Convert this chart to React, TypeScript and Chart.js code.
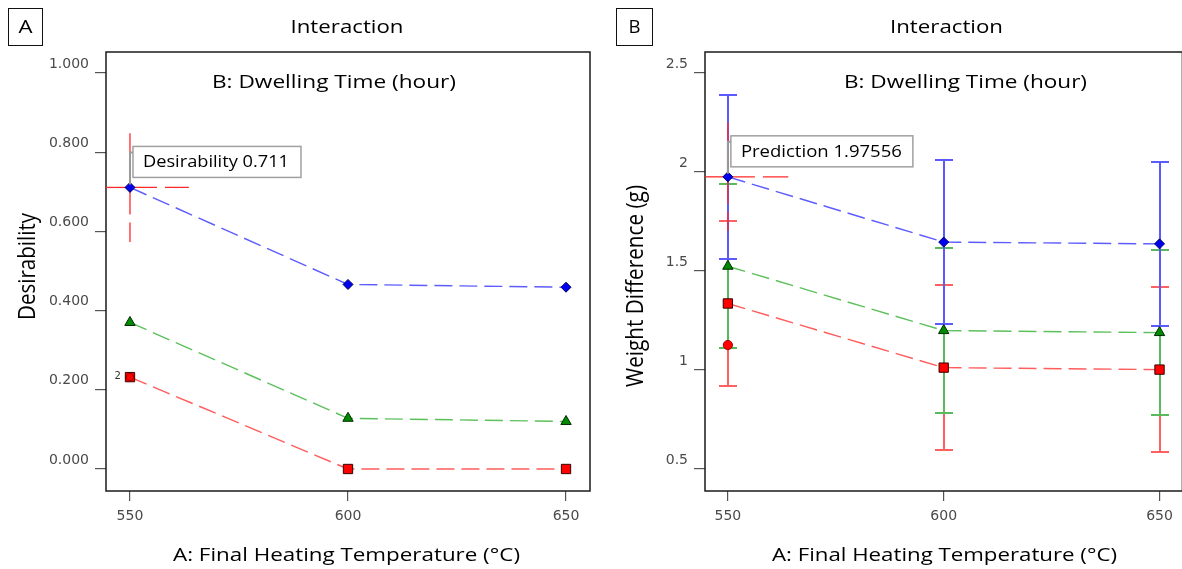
import React, { useEffect, useRef } from "react";
import { Chart, registerables } from "chart.js";

Chart.register(...registerables);

// ---------------- data ----------------
const temperatures = [550, 600, 650];
const temperatureTicks = [550, 600, 650];

// Panel A: Desirability
const desirabilityTicks = [0, 0.2, 0.4, 0.6, 0.8, 1.0];
const desirabilityLong = [0.711, 0.466, 0.459];
const desirabilityMid = [0.37, 0.128, 0.12];
const desirabilityShort = [0.232, 0.0, 0.0];
const desirabilityDesignTemps = [550];
const desirabilityDesignValues = [0.232];
const desirabilityDesignCounts = ["2"];

// Panel B: Weight Difference (g)
const weightTicks = [0.5, 1, 1.5, 2, 2.5];
const weightLong = [1.97556, 1.646, 1.637];
const weightLongLower = [1.559, 1.232, 1.222];
const weightLongUpper = [2.387, 2.06, 2.052];
const weightMid = [1.524, 1.199, 1.189];
const weightMidLower = [1.111, 0.783, 0.773];
const weightMidUpper = [1.938, 1.615, 1.605];
const weightShort = [1.336, 1.012, 1.002];
const weightShortLower = [0.921, 0.594, 0.584];
const weightShortUpper = [1.751, 1.429, 1.419];
const weightDesignTemps = [550];
const weightDesignValues = [1.126];
const weightDesignCounts = [""];

// ---------------- styles ----------------
const FONT = '"Open Sans", "Noto Sans", sans-serif';
const TICK_FONT = '"DejaVu Sans", sans-serif';

const blueStyle = { style: "rectRot", radius: 5, fill: "#0000f0", edge: "#000060", line: "#5c5cff", bar: "#5a5aff" };
const greenStyle = { style: "triangle", radius: 6, fill: "#008a00", edge: "#002a00", line: "#5cc05c", bar: "#5cb85c" };
const redStyle = { style: "rect", radius: 6.6, fill: "#ff0000", edge: "#3a0000", line: "#ff5c5c", bar: "#ff6060" };

type SeriesCfg = {
  name: string;
  values: number[];
  lower?: number[];
  upper?: number[];
  style: string;
  radius: number;
  fill: string;
  edge: string;
  line: string;
  bar: string;
};

type PanelCfg = {
  key: string;
  left: number;
  width: number;
  area: { left: number; right: number; top: number; bottom: number };
  xMin: number;
  xMax: number;
  yMin: number;
  yMax: number;
  yTicks: number[];
  yFormat: (v: number) => string;
  series: SeriesCfg[];
  design: { temps: number[]; values: number[]; counts: string[]; radius: number };
  bars: boolean;
  cross: { x: number; y: number; xEnd: number; yTop: number; yBottom: number };
  label: { text: string; boxW: number; textW: number };
  letterBox: { x: number; y: number; w: number; h: number };
  title: { cx: number; w: number };
  inner: { cx: number; w: number };
  xTitle: { text: string; cx: number; w: number };
  yTitle: { text: string; bx: number; cy: number; len: number };
};

const panelA: PanelCfg = {
  key: "A",
  left: 0,
  width: 600,
  area: { left: 106, right: 590, top: 52, bottom: 491 },
  xMin: 544.5,
  xMax: 655.5,
  yMin: -0.0556,
  yMax: 1.053,
  yTicks: desirabilityTicks,
  yFormat: (v) => v.toFixed(3),
  series: [
    { name: "B+", values: desirabilityLong, ...blueStyle },
    { name: "B0", values: desirabilityMid, ...greenStyle },
    { name: "B-", values: desirabilityShort, ...redStyle },
  ],
  design: { temps: desirabilityDesignTemps, values: desirabilityDesignValues, counts: desirabilityDesignCounts, radius: 3.6 },
  bars: false,
  cross: { x: temperatures[0], y: desirabilityLong[0], xEnd: 563.5, yTop: 0.848, yBottom: 0.573 },
  label: { text: "Desirability " + desirabilityLong[0].toFixed(3), boxW: 168, textW: 146 },
  letterBox: { x: 8, y: 8, w: 34, h: 37 },
  title: { cx: 347, w: 113 },
  inner: { cx: 334, w: 244 },
  xTitle: { text: "A: Final Heating Temperature (°C)", cx: 346.5, w: 347 },
  yTitle: { text: "Desirability", bx: 35, cy: 266.5, len: 107 },
};

const panelB: PanelCfg = {
  key: "B",
  left: 600,
  width: 590,
  area: { left: 105, right: 585, top: 52, bottom: 491 },
  xMin: 544.7,
  xMax: 655.3,
  yMin: 0.3889,
  yMax: 2.606,
  yTicks: weightTicks,
  yFormat: (v) => String(v),
  series: [
    { name: "B+", values: weightLong, lower: weightLongLower, upper: weightLongUpper, ...blueStyle },
    { name: "B0", values: weightMid, lower: weightMidLower, upper: weightMidUpper, ...greenStyle },
    { name: "B-", values: weightShort, lower: weightShortLower, upper: weightShortUpper, ...redStyle },
  ],
  design: { temps: weightDesignTemps, values: weightDesignValues, counts: weightDesignCounts, radius: 4.6 },
  bars: true,
  cross: { x: temperatures[0], y: weightLong[0], xEnd: 564, yTop: 2.249, yBottom: 1.703 },
  label: { text: "Prediction " + String(weightLong[0]), boxW: 182, textW: 161 },
  letterBox: { x: 16, y: 8, w: 36, h: 37 },
  title: { cx: 346.5, w: 113 },
  inner: { cx: 365.5, w: 243 },
  xTitle: { text: "A: Final Heating Temperature (°C)", cx: 344.5, w: 345 },
  yTitle: { text: "Weight Difference (g)", bx: 42.7, cy: 286, len: 202 },
};

// ---------------- text helpers ----------------
function drawStretched(ctx: CanvasRenderingContext2D, text: string, cx: number, baseline: number, size: number, width: number, color = "#000") {
  ctx.save();
  ctx.font = `${size}px ${FONT}`;
  const w = ctx.measureText(text).width || 1;
  ctx.translate(cx, baseline);
  ctx.scale(width / w, 1);
  ctx.textAlign = "center";
  ctx.textBaseline = "alphabetic";
  ctx.fillStyle = color;
  ctx.fillText(text, 0, 0);
  ctx.restore();
}

function drawVertical(ctx: CanvasRenderingContext2D, text: string, bx: number, cy: number, size: number, len: number, thick: number) {
  ctx.save();
  ctx.font = `${size}px ${FONT}`;
  const w = ctx.measureText(text).width || 1;
  ctx.translate(bx, cy);
  ctx.scale(thick, 1);
  ctx.rotate(-Math.PI / 2);
  ctx.scale(len / w, 1);
  ctx.textAlign = "center";
  ctx.textBaseline = "alphabetic";
  ctx.fillStyle = "#000";
  ctx.fillText(text, 0, 0);
  ctx.restore();
}

// ---------------- plugin ----------------
function makeDecor(p: PanelCfg) {
  return {
    id: "decor" + p.key,
    beforeDatasetsDraw(chart: any) {
      const { ctx, chartArea: a, scales } = chart;
      const xs = scales.x;
      const ys = scales.y;
      ctx.save();
      // frame
      ctx.strokeStyle = "#1a1a1a";
      ctx.lineWidth = 1.5;
      ctx.strokeRect(a.left, a.top, a.right - a.left, a.bottom - a.top);

      // error bars (drawn red, green, blue so blue is on top)
      if (p.bars) {
        const order = [...p.series].reverse();
        for (const s of order) {
          if (!s.lower || !s.upper) continue;
          ctx.strokeStyle = s.bar;
          ctx.lineWidth = 2;
          ctx.setLineDash([]);
          temperatures.forEach((t, i) => {
            const x = Math.round(xs.getPixelForValue(t));
            const yl = Math.round(ys.getPixelForValue(s.lower![i]));
            const yu = Math.round(ys.getPixelForValue(s.upper![i]));
            ctx.beginPath();
            ctx.moveTo(x, yu);
            ctx.lineTo(x, yl);
            ctx.stroke();
            ctx.beginPath();
            ctx.moveTo(x - 9, yu);
            ctx.lineTo(x + 9, yu);
            ctx.moveTo(x - 9, yl);
            ctx.lineTo(x + 9, yl);
            ctx.stroke();
          });
        }
      }

      // crosshair
      const px = xs.getPixelForValue(p.cross.x);
      const py = ys.getPixelForValue(p.cross.y);
      ctx.strokeStyle = "#ff2a2a";
      ctx.lineWidth = 1.3;
      ctx.setLineDash([27, 8]);
      const arm = (x2: number, y2: number) => {
        ctx.beginPath();
        ctx.moveTo(px, py);
        ctx.lineTo(x2, y2);
        ctx.stroke();
      };
      arm(a.left, py);
      arm(xs.getPixelForValue(p.cross.xEnd), py);
      arm(px, ys.getPixelForValue(p.cross.yTop));
      arm(px, ys.getPixelForValue(p.cross.yBottom));
      ctx.restore();
    },
    afterDatasetsDraw(chart: any) {
      const { ctx, scales } = chart;
      const xs = scales.x;
      const ys = scales.y;
      ctx.save();
      const px = xs.getPixelForValue(p.cross.x);
      const py = ys.getPixelForValue(p.cross.y);
      const boxL = px + 3;
      const boxB = py - 10;
      const boxT = boxB - 31;
      // leader
      ctx.strokeStyle = "#9a9a9a";
      ctx.lineWidth = 2;
      ctx.beginPath();
      ctx.moveTo(px, py - 3);
      ctx.lineTo(px, boxT + 6);
      ctx.lineTo(boxL, boxT + 6);
      ctx.stroke();
      // box
      ctx.fillStyle = "#fff";
      ctx.fillRect(boxL, boxT, p.label.boxW, 31);
      ctx.strokeStyle = "#a0a0a0";
      ctx.lineWidth = 1.5;
      ctx.strokeRect(boxL, boxT, p.label.boxW, 31);
      ctx.restore();
      drawStretched(ctx, p.label.text, boxL + 10 + p.label.textW / 2, boxB - 10, 16, p.label.textW);

      // design point counts
      ctx.save();
      ctx.font = `10px ${TICK_FONT}`;
      ctx.fillStyle = "#333";
      ctx.textAlign = "right";
      ctx.textBaseline = "middle";
      p.design.temps.forEach((t, i) => {
        const c = p.design.counts[i];
        if (!c) return;
        ctx.fillText(c, xs.getPixelForValue(t) - 9, ys.getPixelForValue(p.design.values[i]) - 1);
      });
      ctx.restore();
    },
    afterDraw(chart: any) {
      const { ctx } = chart;
      ctx.save();
      const lb = p.letterBox;
      ctx.strokeStyle = "#111";
      ctx.lineWidth = 1;
      ctx.strokeRect(lb.x + 0.5, lb.y + 0.5, lb.w, lb.h);
      ctx.restore();
      drawStretched(ctx, p.key, lb.x + lb.w / 2 + 0.5, 33, 19, p.key === "A" ? 14 : 12);
      drawStretched(ctx, "Interaction", p.title.cx, 33, 19, p.title.w);
      drawStretched(ctx, "B: Dwelling Time (hour)", p.inner.cx, 88, 19, p.inner.w);
      drawStretched(ctx, p.xTitle.text, p.xTitle.cx, 561, 19, p.xTitle.w);
      drawVertical(ctx, p.yTitle.text, p.yTitle.bx, p.yTitle.cy, 20, p.yTitle.len, 1.2);
    },
  };
}

function buildConfig(p: PanelCfg): any {
  const datasets: any[] = [
    {
      label: "Design points",
      data: p.design.temps.map((t, i) => ({ x: t, y: p.design.values[i] })),
      showLine: false,
      pointStyle: "circle",
      pointRadius: p.design.radius,
      pointBackgroundColor: "#ff0000",
      pointBorderColor: "#a00000",
      pointBorderWidth: 1,
    },
    ...p.series.map((s) => ({
      label: s.name,
      data: temperatures.map((t, i) => ({ x: t, y: s.values[i] })),
      borderColor: s.line,
      borderWidth: 1.4,
      borderDash: [18, 7],
      fill: false,
      tension: 0,
      pointStyle: s.style,
      pointRadius: s.radius,
      pointBackgroundColor: s.fill,
      pointBorderColor: s.edge,
      pointBorderWidth: 1,
    })),
  ];
  return {
    type: "line",
    data: { datasets },
    options: {
      responsive: false,
      animation: false,
      events: [],
      layout: { padding: { left: 0, top: p.area.top, right: p.width - p.area.right, bottom: 0 } },
      plugins: { legend: { display: false }, tooltip: { enabled: false }, title: { display: false } },
      scales: {
        x: {
          type: "linear",
          min: p.xMin,
          max: p.xMax,
          afterBuildTicks: (s: any) => {
            s.ticks = temperatureTicks.map((v) => ({ value: v }));
          },
          afterFit: (s: any) => {
            s.height = 569 - p.area.bottom;
          },
          grid: { drawOnChartArea: false, drawTicks: true, tickLength: 10, color: "#555", lineWidth: 1.2 },
          border: { display: false },
          ticks: {
            font: { family: TICK_FONT, size: 14 },
            color: "#4a4a4a",
            padding: 7,
            maxRotation: 0,
            autoSkip: false,
            callback: (v: any) => String(v),
          },
          title: { display: false },
        },
        y: {
          type: "linear",
          min: p.yMin,
          max: p.yMax,
          afterBuildTicks: (s: any) => {
            s.ticks = p.yTicks.map((v) => ({ value: v }));
          },
          afterFit: (s: any) => {
            s.width = p.area.left;
          },
          grid: { drawOnChartArea: false, drawTicks: true, tickLength: 11, color: "#555", lineWidth: 1.2 },
          border: { display: false },
          ticks: {
            font: { family: TICK_FONT, size: 14 },
            color: "#4a4a4a",
            padding: 6,
            labelOffset: -9,
            autoSkip: false,
            callback: (v: any) => p.yFormat(Number(v)),
          },
          title: { display: false },
        },
      },
    },
    plugins: [makeDecor(p)],
  };
}

function Panel({ cfg }: { cfg: PanelCfg }) {
  const ref = useRef<HTMLCanvasElement>(null);
  useEffect(() => {
    if (!ref.current) return;
    const chart = new Chart(ref.current, buildConfig(cfg));
    return () => chart.destroy();
  }, [cfg]);
  return (
    <canvas
      ref={ref}
      width={cfg.width}
      height={569}
      style={{ position: "absolute", left: cfg.left, top: 0, width: cfg.width, height: 569 }}
    />
  );
}

export default function App() {
  return (
    <div
      style={{
        position: "fixed",
        left: 0,
        top: 0,
        width: 1182,
        height: 569,
        overflow: "hidden",
        background: "#fff",
      }}
    >
      <Panel cfg={panelA} />
      <Panel cfg={panelB} />
    </div>
  );
}
